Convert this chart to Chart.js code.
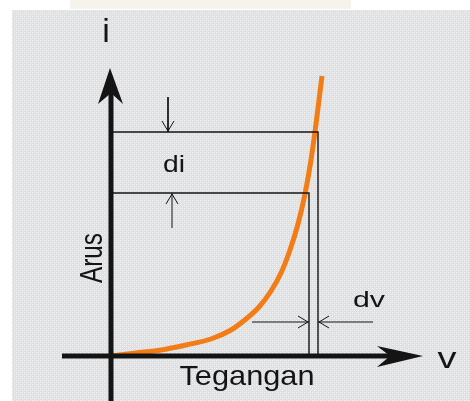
<!DOCTYPE html>
<html>
<head>
<meta charset="utf-8">
<script src="https://cdn.jsdelivr.net/npm/chart.js@4.4.1/dist/chart.umd.min.js"></script>
<style>
  html, body { margin: 0; padding: 0; background: #fff; }
  #wrap { width: 470px; height: 401px; }
</style>
</head>
<body>
<div id="wrap"><canvas id="diodeChart" width="470" height="401"></canvas></div>
<script>
// diode forward curve (arbitrary units)
var voltage = [0, 25, 50, 75, 100, 120, 135, 148, 160, 170, 179, 187, 194, 200, 205, 211];
var current = [0, 3, 6, 11, 17, 26, 37, 49, 65, 83, 106, 132, 162, 196, 232, 280];

// di / dv construction
var diLevels = [163, 224];     // lower, upper current
var dvLevels = [198, 207];     // left, right voltage
var dvArrowLevel = 34;         // current where the dv arrows sit

var labels = { x: 'Tegangan', y: 'Arus', xEnd: 'v', yEnd: 'i', di: 'di', dv: 'dv' };

var ORANGE = '#f27d16';
var INK = '#141414';
var FONT = '"Liberation Sans", Arial, sans-serif';

function pts(xs, ys) {
    return xs.map(function (x, i) { return { x: x, y: ys[i] }; });
}

function seg(data, width, color) {
    return {
        data: data,
        showLine: true,
        borderColor: color || INK,
        borderWidth: width,
        pointRadius: 0,
        fill: false
    };
}

// background with the light dotted texture
function makePattern(ctx) {
    var c = document.createElement('canvas');
    c.width = 4; c.height = 4;
    var p = c.getContext('2d');
    p.fillStyle = '#dfe0e2';
    p.fillRect(0, 0, 4, 4);
    p.fillStyle = '#f5f5f7';
    p.fillRect(0, 0, 1, 1);
    p.fillRect(2, 2, 1, 1);
    p.fillStyle = '#e8e9eb';
    p.fillRect(2, 0, 1, 1);
    p.fillRect(0, 2, 1, 1);
    return ctx.createPattern(c, 'repeat');
}

var bgPlugin = {
    id: 'bg',
    beforeDraw: function (chart) {
        var ctx = chart.ctx;
        ctx.save();
        ctx.fillStyle = '#ffffff';
        ctx.fillRect(0, 0, chart.width, chart.height);
        ctx.fillStyle = '#f6f3ec';
        ctx.fillRect(70, 0, 281, 9);
        ctx.fillStyle = makePattern(ctx);
        ctx.fillRect(12, 10, chart.width - 12, chart.height - 10);
        ctx.restore();
    }
};

function drawText(ctx, txt, x, y, size, width, rot) {
    ctx.save();
    ctx.translate(x, y);
    if (rot) ctx.rotate(rot);
    ctx.font = size + 'px ' + FONT;
    var w = ctx.measureText(txt).width;
    if (width) ctx.scale(width / w, 1);
    ctx.fillStyle = INK;
    ctx.textAlign = 'center';
    ctx.textBaseline = 'alphabetic';
    ctx.fillText(txt, 0, 0);
    ctx.restore();
}

var decoPlugin = {
    id: 'deco',
    afterDatasetsDraw: function (chart) {
        var ctx = chart.ctx;
        var sx = chart.scales.x, sy = chart.scales.y;
        function X(v) { return sx.getPixelForValue(v); }
        function Y(v) { return sy.getPixelForValue(v); }
        ctx.save();
        ctx.fillStyle = INK;

        // solid notched arrowheads on the axes
        var ox = X(0), oy = Y(0);
        ctx.beginPath();
        ctx.moveTo(ox - 1, 68);
        ctx.lineTo(ox + 12, 104);
        ctx.lineTo(ox, 93);
        ctx.lineTo(ox - 13, 104);
        ctx.closePath();
        ctx.fill();

        ctx.beginPath();
        ctx.moveTo(423, oy);
        ctx.lineTo(377, oy - 10);
        ctx.lineTo(390, oy);
        ctx.lineTo(377, oy + 11);
        ctx.closePath();
        ctx.fill();

        // open chevron arrowheads
        ctx.strokeStyle = INK;
        ctx.lineWidth = 1;
        function chevron(tx, ty, dx, dy) {
            ctx.beginPath();
            ctx.moveTo(tx + dx * 10 - dy * 6, ty + dy * 10 + dx * 6);
            ctx.lineTo(tx, ty);
            ctx.lineTo(tx + dx * 10 + dy * 6, ty + dy * 10 - dx * 6);
            ctx.stroke();
        }
        chevron(X(57), Y(diLevels[1]) - 1, 0, -1);
        chevron(X(61), Y(diLevels[0]) + 1, 0, 1);
        chevron(X(dvLevels[0]) - 1, Y(dvArrowLevel), -1, 0);
        chevron(X(dvLevels[1]) + 1, Y(dvArrowLevel), 1, 0);

        // texts
        drawText(ctx, labels.yEnd, 106, 42, 34, 0, 0);
        drawText(ctx, labels.x, 247, 385, 28, 135, 0);
        drawText(ctx, labels.di, 174, 172, 24, 22, 0);
        drawText(ctx, labels.dv, 369, 307, 22, 32, 0);
        drawText(ctx, labels.xEnd, 447, 368, 30, 19, 0);
        drawText(ctx, labels.y, 102, 258, 32, 50, -Math.PI / 2);
        ctx.restore();
    }
};

var ctx = document.getElementById('diodeChart').getContext('2d');
var diodeChart = new Chart(ctx, {
    type: 'scatter',
    data: {
        datasets: [
            // di construction lines
            seg([{ x: 0, y: diLevels[1] }, { x: dvLevels[1], y: diLevels[1] }, { x: dvLevels[1], y: 0 }], 1.4),
            seg([{ x: 0, y: diLevels[0] }, { x: dvLevels[0], y: diLevels[0] }, { x: dvLevels[0], y: 0 }], 1.4),
            seg([{ x: 57, y: 259 }, { x: 57, y: diLevels[1] }], 1),
            seg([{ x: 61, y: 128 }, { x: 61, y: diLevels[0] }], 1),
            // dv arrows
            seg([{ x: 141, y: dvArrowLevel }, { x: dvLevels[0], y: dvArrowLevel }], 1),
            seg([{ x: dvLevels[1], y: dvArrowLevel }, { x: 262, y: dvArrowLevel }], 1),
            // axes
            seg([{ x: -49, y: 0 }, { x: 280, y: 0 }], 5),
            seg([{ x: 0, y: -45 }, { x: 0, y: 264 }], 5),
            // the curve
            {
                label: 'i(v)',
                data: pts(voltage, current),
                showLine: true,
                borderColor: ORANGE,
                borderWidth: 5,
                pointRadius: 0,
                cubicInterpolationMode: 'monotone',
                fill: false
            }
        ]
    },
    options: {
        responsive: false,
        animation: false,
        layout: { padding: 0 },
        plugins: { legend: { display: false }, tooltip: { enabled: false } },
        scales: {
            x: { type: 'linear', min: -111, max: 359, display: false },
            y: { type: 'linear', min: -45, max: 356, display: false }
        }
    },
    plugins: [bgPlugin, decoPlugin]
});
</script>
</body>
</html>
